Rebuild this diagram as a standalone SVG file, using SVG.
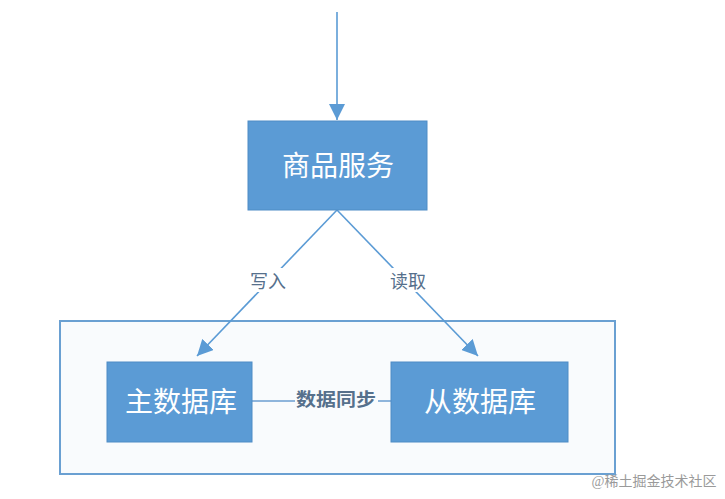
<svg xmlns="http://www.w3.org/2000/svg" width="725" height="499" viewBox="0 0 725 499">
<style>
.box{fill:#5b9bd5;stroke:#4f8cc5;stroke-width:1}
.lbl{font-family:"Noto Sans CJK SC","Noto Sans",sans-serif;fill:#ffffff;font-size:28px;text-anchor:middle;dominant-baseline:central}
.el{font-family:"Noto Sans CJK SC","Noto Sans",sans-serif;fill:#56708c;font-size:18px;text-anchor:middle;dominant-baseline:central}
.ln{stroke:#5b9bd5;stroke-width:1.6;fill:none}
</style>
<defs>
<marker id="ahb" viewBox="0 0 10 10" refX="10" refY="5" markerWidth="16" markerHeight="16" markerUnits="userSpaceOnUse" orient="auto">
<path d="M0,0 L10,5 L0,10 Z" fill="#5b9bd5"/>
</marker>
</defs>
<rect width="725" height="499" fill="#ffffff"/>
<g id="container">
<rect x="60" y="321" width="555" height="153" fill="#f9fbfd" stroke="#6aa0d2" stroke-width="2"/>
</g>
<g id="connectors">
<line class="ln" x1="337" y1="12" x2="337" y2="120" marker-end="url(#ahb)"/>
<line class="ln" x1="337" y1="210" x2="197" y2="356" marker-end="url(#ahb)"/>
<line class="ln" x1="337" y1="210" x2="478" y2="356" marker-end="url(#ahb)"/>
<line x1="252" y1="401" x2="391" y2="401" stroke="#8fb5dc" stroke-width="2"/>
<rect x="246" y="268" width="44" height="24" fill="#ffffff"/>
<text class="el" x="268" y="280">写入</text>
<rect x="386" y="268" width="44" height="24" fill="#ffffff"/>
<text class="el" x="408" y="280">读取</text>
<rect x="295" y="386" width="83" height="24" fill="#f9fbfd"/>
<text class="el" x="336" y="398" font-weight="bold" textLength="80" lengthAdjust="spacingAndGlyphs">数据同步</text>
</g>
<g id="service">
<rect class="box" x="248" y="121" width="179" height="89"/>
<text class="lbl" x="338" y="164">商品服务</text>
</g>
<g id="master">
<rect class="box" x="107" y="362" width="145" height="80"/>
<text class="lbl" x="181" y="400">主数据库</text>
</g>
<g id="slave">
<rect class="box" x="391" y="362" width="177" height="80"/>
<text class="lbl" x="480" y="400">从数据库</text>
</g>
<text x="654" y="486" font-family="'Liberation Serif','Noto Sans CJK SC',serif" font-size="14" fill="#9a9a9a" text-anchor="middle">@稀土掘金技术社区</text>
</svg>
